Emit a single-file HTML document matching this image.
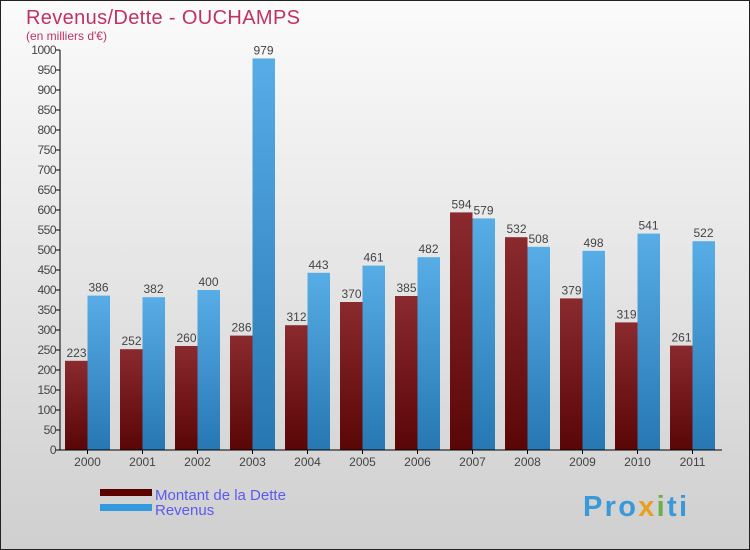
<!DOCTYPE html>
<html><head><meta charset="utf-8"><style>
body{margin:0;width:750px;height:550px;overflow:hidden}
svg{display:block;font-family:"Liberation Sans",sans-serif}
</style></head><body>
<svg id="c" width="750" height="550">
<defs>
<linearGradient id="bg" x1="0" y1="0" x2="0" y2="1"><stop offset="0" stop-color="#fbfbfb"/><stop offset="1" stop-color="#cfcfcf"/></linearGradient>
<linearGradient id="gd" x1="0" y1="0" x2="0" y2="1"><stop offset="0" stop-color="#8a2a2e"/><stop offset="1" stop-color="#5a0606"/></linearGradient>
<linearGradient id="gr" x1="0" y1="0" x2="0" y2="1"><stop offset="0" stop-color="#58ade6"/><stop offset="1" stop-color="#2677b2"/></linearGradient>
</defs>
<rect x="0.5" y="0.5" width="749" height="549" fill="url(#bg)" stroke="#222"/>
<text x="26" y="24" font-size="20" fill="#c0335f" textLength="274">Revenus/Dette - OUCHAMPS</text>
<text x="26" y="40" font-size="12" fill="#c0335f">(en milliers d'€)</text>
<g id="plot"></g>
<rect x="100" y="489" width="52" height="7" fill="#5a0000"/>
<text x="155" y="500" font-size="15" fill="#5a5af0">Montant de la Dette</text>
<rect x="100" y="504" width="52" height="7" fill="#3399dd"/>
<text x="155" y="515" font-size="15" fill="#5a5af0">Revenus</text>
<text x="583" y="516" font-size="29" font-weight="bold" fill="#3a9ad9" textLength="104">Pro<tspan fill="#e8a020">x</tspan><tspan fill="#6ab04c">i</tspan>ti</text>
</svg>
<script>
const years=["2000","2001","2002","2003","2004","2005","2006","2007","2008","2009","2010","2011"];
const dette=[223,252,260,286,312,370,385,594,532,379,319,261];
const revenus=[386,382,400,979,443,461,482,579,508,498,541,522];
const yTicks=[0,50,100,150,200,250,300,350,400,450,500,550,600,650,700,750,800,850,900,950,1000];
const NS="http://www.w3.org/2000/svg";
const g=document.getElementById('plot');
const x0=60,y0=450,cw=55,ppu=0.4;
const y=v=>y0-v*ppu;
function mk(t,a){const e=document.createElementNS(NS,t);for(const k in a)e.setAttribute(k,a[k]);g.appendChild(e);return e;}
years.forEach((yr,i)=>{
 const cx=x0+cw*i+cw/2;
 const b1=mk('rect',{x:cx-22.5,y:y(dette[i]),width:22.5,height:dette[i]*ppu,fill:'url(#gd)'});
 
 
 const b2=mk('rect',{x:cx,y:y(revenus[i]),width:22.5,height:revenus[i]*ppu,fill:'url(#gr)'});
 
 
 const l1=mk('text',{x:cx-11,y:y(dette[i])-4,'font-size':12,'text-anchor':'middle',fill:'#444'});l1.textContent=dette[i];
 
 
 const l2=mk('text',{x:cx+11,y:y(revenus[i])-4,'font-size':12,'text-anchor':'middle',fill:'#444'});l2.textContent=revenus[i];
 
 
 mk('line',{x1:cx,x2:cx,y1:y0,y2:y0+4,stroke:'#000'});
 const t=mk('text',{x:cx,y:y0+16,'font-size':12,'text-anchor':'middle',fill:'#444'});t.textContent=yr;
 
 
});
yTicks.forEach(v=>{
 mk('line',{x1:x0-4,x2:x0,y1:y(v),y2:y(v),stroke:'#000'});
 const t=mk('text',{x:x0-4,y:y(v)+4,'font-size':12,'text-anchor':'end',fill:'#444','letter-spacing':'-0.5'});t.textContent=v;
 
 
});
const ax=mk('line',{x1:x0,x2:x0,y1:y(1000),y2:y0,stroke:'#000'});


const bx=mk('line',{x1:x0,x2:722,y1:y0,y2:y0,stroke:'#000'});


</script>
</body></html>
